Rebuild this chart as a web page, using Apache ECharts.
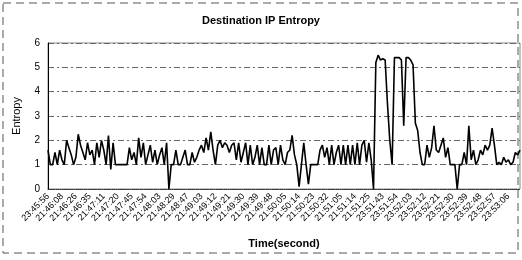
<!DOCTYPE html>
<html>
<head>
<meta charset="utf-8">
<script src="https://cdn.jsdelivr.net/npm/echarts@6/dist/echarts.min.js"></script>
<style>
html, body { margin: 0; padding: 0; background: #fff; }
#main { width: 522px; height: 260px; }
</style>
</head>
<body>
<div id="main"></div>
<script>
// tick labels shown on the time axis (one every 6 samples)
var tickLabels = ['23:45:56', '21:46:08', '21:46:26', '21:46:35', '21:47:11', '21:47:20', '21:47:45',
    '21:47:54', '21:48:03', '21:48:29', '21:48:47', '21:49:03', '21:49:12', '21:49:21', '21:49:30',
    '21:49:39', '21:49:48', '21:50:05', '21:50:14', '21:50:23', '21:50:32', '21:51:05', '21:51:14',
    '21:51:25', '23:51:43', '23:51:54', '23:52:03', '23:52:12', '23:52:21', '23:52:30', '23:52:39',
    '23:52:48', '23:52:57', '23:53:06'];
var labelStep = 6;

// entropy samples
var entropy = [
    1.6, 1.0, 1.0, 1.5, 1.0, 1.6, 1.2, 1.0, 2.0, 1.7,
    1.4, 1.0, 1.3, 2.25, 1.8, 1.5, 1.2, 1.9, 1.4, 1.6,
    1.0, 1.9, 1.3, 2.0, 1.6, 1.0, 2.2, 0.8, 1.9, 1.0,
    1.0, 1.0, 1.0, 1.0, 1.0, 1.7, 1.2, 1.5, 1.0, 2.1,
    1.3, 1.9, 1.0, 1.4, 1.8, 1.1, 1.6, 1.0, 1.4, 1.7,
    1.0, 1.9, 0.0, 1.0, 1.0, 1.6, 1.0, 1.0, 1.3, 1.6,
    1.0, 1.0, 1.5, 1.1, 1.3, 1.6, 1.8, 1.5, 2.1, 1.6,
    2.35, 1.6, 1.0, 1.8, 2.0, 1.7, 1.9, 1.8, 1.5, 1.8,
    1.9, 1.2, 1.9, 1.1, 1.5, 1.9, 1.0, 1.8, 1.0, 1.3,
    1.8, 1.0, 1.7, 1.0, 1.0, 1.8, 1.0, 1.6, 1.7, 1.0,
    1.8, 1.2, 1.0, 1.5, 1.6, 2.2, 1.4, 1.0, 0.1, 1.0,
    1.9, 1.0, 0.2, 1.0, 1.0, 1.0, 1.0, 1.6, 1.8, 1.3,
    1.7, 1.0, 1.8, 1.0, 1.5, 1.8, 1.0, 1.8, 1.0, 1.8,
    1.0, 1.8, 1.0, 1.9, 1.0, 1.8, 2.0, 1.1, 1.9, 1.2,
    0.0, 5.2, 5.5, 5.3, 5.35, 5.3, 3.5, 2.0, 1.0, 5.4,
    5.4, 5.4, 5.3, 2.6, 5.4, 5.4, 5.3, 5.1, 2.7, 2.4,
    1.5, 1.0, 1.0, 1.8, 1.3, 1.7, 2.6, 1.6, 1.5, 1.8,
    2.1, 1.3, 1.7, 1.0, 1.0, 1.0, 0.0, 1.0, 1.0, 1.5,
    1.0, 2.6, 1.2, 1.6, 1.0, 1.2, 1.6, 1.4, 1.8, 1.6,
    1.8, 2.5, 1.8, 1.0, 1.1, 1.0, 1.3, 1.1, 1.2, 1.0,
    1.1, 1.5, 1.4, 1.6
];

// category list: the tick label sits on every 6th sample
var categories = entropy.map(function (v, i) {
    return i % labelStep === 0 ? (tickLabels[i / labelStep] || '') : '';
});

var chart = echarts.init(document.getElementById('main'));

chart.setOption({
    animation: false,
    textStyle: {
        fontFamily: 'Liberation Sans, Arial, sans-serif',
        color: '#000'
    },
    title: {
        text: 'Destination IP Entropy',
        left: 'center',
        top: 10,
        textStyle: {
            fontFamily: 'Liberation Sans Narrow, Liberation Sans, Arial',
            fontSize: 11,
            fontWeight: 'bold',
            color: '#000'
        }
    },
    graphic: [{
        type: 'rect',
        shape: {x: 3, y: 3, width: 515, height: 250},
        style: {fill: 'none', stroke: '#555', lineWidth: 1, lineDash: [8, 5]},
        silent: true
    }],
    grid: {
        left: 48,
        right: 2,
        top: 43,
        bottom: 71,
        show: true,
        borderColor: '#888',
        borderWidth: 1
    },
    xAxis: {
        type: 'category',
        data: categories,
        boundaryGap: false,
        name: 'Time(second)',
        nameLocation: 'middle',
        nameGap: 49,
        nameTextStyle: {
            fontSize: 11,
            fontWeight: 'bold',
            color: '#000'
        },
        axisLine: {
            lineStyle: {color: '#333', width: 1, type: 'dotted'}
        },
        axisTick: {show: false},
        axisLabel: {
            interval: function (index) {
                return index % labelStep === 0;
            },
            rotate: 45,
            fontSize: 9,
            margin: 6,
            color: '#000'
        },
        splitLine: {show: false}
    },
    yAxis: {
        type: 'value',
        min: 0,
        max: 6,
        interval: 1,
        name: 'Entropy',
        nameLocation: 'middle',
        nameGap: 26,
        nameTextStyle: {
            fontSize: 11,
            color: '#000'
        },
        axisLine: {
            show: true,
            lineStyle: {color: '#000', width: 1}
        },
        axisTick: {show: false},
        axisLabel: {
            fontSize: 10,
            margin: 8,
            color: '#000'
        },
        splitLine: {
            show: true,
            lineStyle: {color: '#666', width: 1, type: [6, 3, 2, 3]}
        }
    },
    series: [{
        type: 'line',
        data: entropy,
        showSymbol: false,
        lineStyle: {color: '#000', width: 1.6},
        itemStyle: {color: '#000'}
    }]
});
</script>
</body>
</html>
